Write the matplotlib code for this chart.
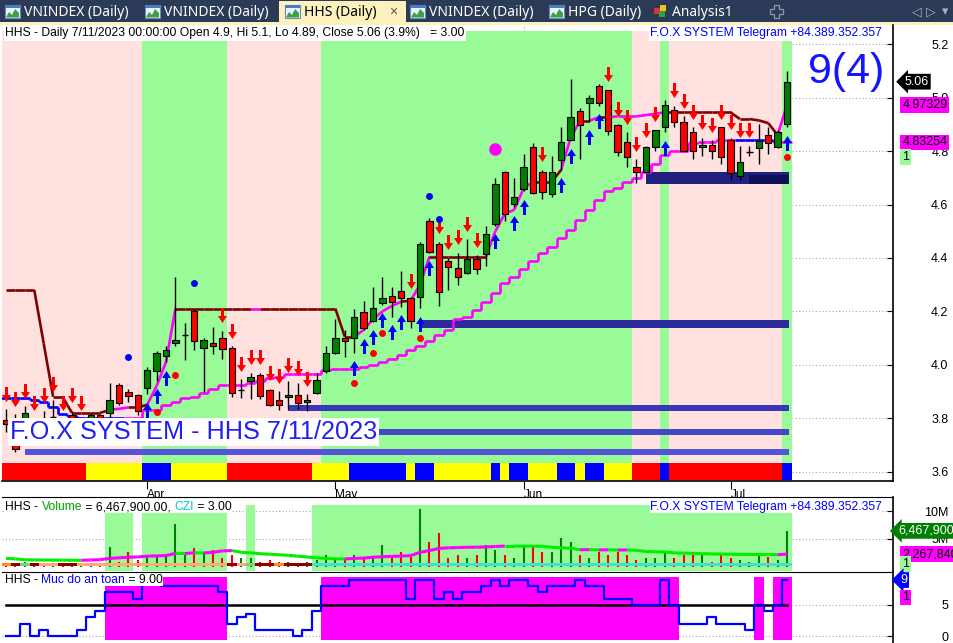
import matplotlib
matplotlib.use("Agg")
import matplotlib.pyplot as plt
import matplotlib.transforms as mtransforms
from matplotlib.collections import LineCollection
from matplotlib.patches import Rectangle, Polygon
import numpy as np

plt.rcParams["font.family"] = ["Liberation Sans", "DejaVu Sans"]

W, H = 954, 643

# HHS daily candles, 13 Mar .. 11 Jul 2023 (84 sessions)
opens = [3.793, 3.780, 3.720, 3.790, 3.790, 3.805, 3.785, 3.810, 3.780, 3.800,
         3.810, 3.820, 3.924, 3.897, 3.886, 3.914, 3.978, 4.034, 4.080, 4.111,
         4.202, 4.062, 4.080, 4.099, 4.061, 3.905, 3.940, 3.960, 3.905, 3.868,
         3.878, 3.886, 3.859, 3.895, 3.978, 4.043, 4.099, 4.099, 4.199, 4.165,
         4.230, 4.257, 4.275, 4.251, 4.255, 4.538, 4.452, 4.388, 4.361, 4.342,
         4.395, 4.414, 4.526, 4.721, 4.601, 4.657, 4.814, 4.721, 4.638, 4.766,
         4.842, 4.951, 4.979, 5.045, 5.029, 4.898, 4.833, 4.739, 4.721, 4.814,
         4.889, 4.954, 4.908, 4.870, 4.814, 4.823, 4.889, 4.842, 4.708, 4.798,
         4.811, 4.860, 4.816, 4.900]
highs = [3.834, 3.815, 3.845, 3.797, 3.827, 3.868, 3.797, 3.827, 3.797, 3.820,
         3.815, 3.930, 3.930, 3.910, 3.890, 3.990, 4.050, 4.070, 4.330, 4.156,
         4.210, 4.100, 4.140, 4.127, 4.070, 3.945, 3.970, 3.970, 3.910, 3.900,
         3.940, 3.930, 3.890, 3.970, 4.070, 4.170, 4.130, 4.210, 4.240, 4.290,
         4.330, 4.292, 4.350, 4.255, 4.460, 4.550, 4.460, 4.400, 4.420, 4.470,
         4.410, 4.520, 4.700, 4.725, 4.700, 4.790, 4.830, 4.730, 4.780, 4.890,
         5.070, 4.960, 5.010, 5.050, 5.030, 4.900, 4.870, 4.770, 4.820, 4.880,
         4.990, 4.970, 4.930, 4.890, 4.850, 4.840, 4.890, 4.850, 4.820, 4.820,
         4.900, 4.890, 4.880, 5.100]
lows = [3.749, 3.673, 3.700, 3.750, 3.740, 3.770, 3.750, 3.770, 3.750, 3.780,
        3.770, 3.800, 3.850, 3.860, 3.810, 3.890, 3.940, 4.010, 4.070, 4.018,
        4.055, 3.899, 4.040, 4.020, 3.880, 3.876, 3.870, 3.870, 3.845, 3.830,
        3.835, 3.835, 3.826, 3.890, 3.970, 4.040, 4.030, 4.045, 4.130, 4.160,
        4.225, 4.180, 4.217, 4.136, 4.211, 4.420, 4.220, 4.280, 4.300, 4.340,
        4.340, 4.370, 4.520, 4.540, 4.590, 4.650, 4.640, 4.620, 4.630, 4.730,
        4.840, 4.770, 4.910, 4.970, 4.860, 4.780, 4.740, 4.680, 4.720, 4.800,
        4.870, 4.890, 4.800, 4.770, 4.780, 4.770, 4.750, 4.690, 4.690, 4.780,
        4.750, 4.790, 4.810, 4.890]
closes = [3.778, 3.685, 3.820, 3.770, 3.770, 3.805, 3.765, 3.780, 3.785, 3.810,
          3.780, 3.868, 3.858, 3.883, 3.828, 3.980, 4.043, 4.055, 4.093, 4.111,
          4.090, 4.093, 4.071, 4.059, 3.895, 3.905, 3.953, 3.883, 3.848, 3.848,
          3.886, 3.858, 3.868, 3.943, 4.043, 4.099, 4.090, 4.180, 4.136, 4.211,
          4.249, 4.236, 4.250, 4.165, 4.451, 4.423, 4.273, 4.367, 4.330, 4.395,
          4.360, 4.490, 4.676, 4.563, 4.628, 4.739, 4.644, 4.646, 4.721, 4.833,
          4.927, 4.897, 4.998, 4.979, 4.876, 4.796, 4.777, 4.721, 4.814, 4.878,
          4.973, 4.908, 4.802, 4.802, 4.823, 4.801, 4.779, 4.717, 4.758, 4.798,
          4.839, 4.829, 4.870, 5.060]

# volume and its average, millions of shares
volume_m = [0.6, 0.4, 0.8, 0.5, 0.3, 0.6, 0.4, 0.5, 0.3, 0.7,
            0.5, 3.6, 0.9, 2.7, 1.2, 2.1, 2.1, 2.1, 7.65, 2.1,
            3.3, 2.7, 3.0, 1.5, 2.1, 1.5, 1.5, 0.9, 1.2, 0.8,
            0.9, 0.6, 0.8, 1.2, 2.1, 1.5, 1.5, 2.1, 1.8, 1.8,
            3.9, 1.8, 2.7, 1.8, 10.5, 4.5, 6.0, 1.5, 2.1, 1.5,
            2.1, 3.9, 3.0, 2.1, 1.5, 3.9, 3.9, 2.7, 2.7, 5.1,
            4.5, 2.1, 1.5, 2.7, 2.1, 2.7, 2.1, 1.2, 1.5, 1.5,
            2.7, 1.5, 2.1, 2.1, 2.1, 0.9, 2.1, 1.5, 1.2, 0.9,
            2.4, 1.8, 1.2, 6.4679]
volume_ma_m = [1.50, 1.40, 1.25, 1.22, 1.20, 1.19, 1.18, 1.16, 1.15, 1.20,
               1.26, 1.50, 1.60, 1.70, 1.76, 1.90, 1.95, 2.00, 2.40, 2.38,
               2.50, 2.48, 2.60, 2.85, 2.90, 2.60, 2.50, 2.35, 2.25, 2.15,
               2.05, 1.90, 1.75, 1.60, 1.50, 1.42, 1.40, 1.50, 1.56, 1.70,
               1.80, 1.86, 1.92, 2.00, 2.60, 2.90, 3.30, 3.40, 3.45, 3.50,
               3.52, 3.56, 3.65, 3.72, 3.72, 3.71, 3.70, 3.69, 3.50, 3.40,
               3.35, 3.05, 3.08, 3.03, 3.05, 3.00, 3.02, 2.95, 2.75, 2.70,
               2.65, 2.50, 2.45, 2.40, 2.35, 2.30, 2.28, 2.25, 2.22, 2.20,
               2.19, 2.18, 2.17, 2.268]

# trailing stops
fast_stop = [4.28, 4.28, 4.28, 4.28, 4.08, 3.88, 3.88, 3.82, 3.82, 3.82,
             3.82, 3.83, 3.835, 3.84, 3.84, 3.85, 3.92, 4.01, 4.21, 4.21,
             4.21, 4.21, 4.21, 4.21, 4.21, 4.21, 4.21, 4.21, 4.21, 4.21,
             4.21, 4.21, 4.21, 4.21, 4.21, 4.21, 4.105, 4.105, 4.13, 4.17,
             4.20, 4.22, 4.236, 4.24, 4.30, 4.405, 4.405, 4.405, 4.405, 4.405,
             4.405, 4.405, 4.50, 4.565, 4.58, 4.66, 4.685, 4.685, 4.685, 4.73,
             4.85, 4.914, 4.914, 4.927, 4.927, 4.93, 4.93, 4.93, 4.935, 4.94,
             4.945, 4.945, 4.945, 4.945, 4.945, 4.945, 4.945, 4.945, 4.92, 4.92,
             4.915, 4.905, 4.86, 4.97329]
slow_stop = [3.876, 3.876, 3.876, 3.868, 3.862, 3.840, 3.815, 3.808, 3.800, 3.800,
             3.800, 3.800, 3.800, 3.800, 3.800, 3.830, 3.830, 3.849, 3.861, 3.876,
             3.880, 3.895, 3.908, 3.924, 3.924, 3.924, 3.930, 3.940, 3.950, 3.955,
             3.966, 3.966, 3.966, 3.966, 3.980, 3.985, 3.985, 3.985, 3.992, 4.000,
             4.011, 4.020, 4.035, 4.055, 4.070, 4.090, 4.110, 4.130, 4.170, 4.180,
             4.205, 4.236, 4.267, 4.305, 4.330, 4.360, 4.390, 4.417, 4.442, 4.473,
             4.504, 4.542, 4.580, 4.617, 4.650, 4.661, 4.685, 4.700, 4.723, 4.750,
             4.785, 4.800, 4.800, 4.829, 4.833, 4.835, 4.840, 4.842, 4.842, 4.842,
             4.842, 4.842, 4.833, 4.83254]

# "Muc do an toan" (safety level 0..9)
safety = [0, 0, 2, 0, 1, 0, 0, 0, 1, 3,
          4, 7, 7, 7, 6, 9, 9, 8, 8, 8,
          8, 8, 8, 7, 2, 3, 3.5, 1, 1, 1,
          1, 0, 1, 4, 8, 8, 8, 9, 9, 9,
          9, 9, 9, 6, 9, 9, 6, 7, 6, 7,
          7, 8, 9, 8, 9, 9, 8, 7, 8, 8,
          8, 9, 8, 8, 6, 6, 6, 5, 5, 5,
          9, 5, 2, 2, 2, 3, 2, 2, 2, 1,
          5, 4, 5, 9]

month_labels = ["Apr", "May", "Jun", "Jul"]
month_bars = [15, 35, 55, 77]

sell_bars = [0, 1, 2, 3, 4, 5, 6, 7, 8, 23, 24, 25, 26, 27, 28, 29, 30, 31, 32,
             43, 46, 47, 48, 49, 50, 57, 64, 65, 66, 67, 68, 69,
             71, 72, 73, 74, 75, 76, 77, 78, 79]
buy_bars = [15, 16, 17, 37, 38, 39, 40, 41, 42, 44, 45, 52, 54, 55, 59, 60, 62, 63, 70, 83]
red_dot_bars = [16, 18, 37, 39, 40, 44, 83]
red_dot_prices = [3.824, 3.961, 3.933, 4.045, 4.120, 4.101, 4.779]
blue_dot_bars = [13, 20, 45, 46]
blue_dot_prices = [4.030, 4.307, 4.633, 4.547]
pink_dot_bar = [52]
pink_dot_price = [4.808]

# horizontal zones drawn to the last bar
zone_from = [68, 79, 44, 30, 24, 2]
zone_top = [4.723, 4.711, 4.167, 3.849, 3.758, 3.684]
zone_bottom = [4.676, 4.677, 4.136, 3.828, 3.736, 3.661]
zone_colors = ["#20207e", "#10105a", "#2b2b9c", "#3838b4", "#4646c8", "#5454d8"]


def runs(spec):
    return "".join(ch * n for ch, n in spec)


fast_trend = runs([("D", 11), ("U", 2), ("D", 2), ("U", 3), ("D", 8), ("U", 1), ("D", 10),
                   ("U", 5), ("D", 1), ("U", 2), ("D", 6), ("U", 5), ("D", 3), ("U", 2),
                   ("D", 1), ("U", 1), ("D", 1), ("U", 6), ("D", 12), ("U", 2)])
slow_trend = runs([("D", 13), ("U", 65), ("D", 4), ("U", 2)])
price_bg = runs([("P", 15), ("G", 9), ("P", 10), ("G", 33), ("P", 3), ("G", 1), ("P", 12), ("G", 1)])
price_strip = runs([("R", 9), ("Y", 6), ("B", 3), ("Y", 6), ("R", 9), ("Y", 4), ("B", 6), ("Y", 1),
                    ("B", 2), ("Y", 6), ("B", 1), ("Y", 1), ("B", 2), ("Y", 3), ("B", 2), ("Y", 1),
                    ("B", 2), ("Y", 3), ("R", 3), ("B", 1), ("R", 12), ("B", 1)])
volume_bg = runs([(".", 11), ("G", 3), (".", 1), ("G", 9), (".", 2), ("G", 1), (".", 6), ("G", 51)])
volume_strip = runs([("o", 1), ("r", 1), ("g", 1), ("r", 1), ("s", 2), ("r", 2), ("s", 16), ("r", 1),
                     ("s", 1), ("g", 1), ("r", 2), ("o", 1), ("r", 3), ("c", 51)])

n = len(closes)
idx = np.arange(n)
o, h, l, c = map(np.array, (opens, highs, lows, closes))

PALE_GREEN = "#98fb98"
MISTY = "#ffe2e0"
MAGENTA = "#ff00ff"
MAROON = "#800000"
HEAD_SIZE = 8.7


def spans(states):
    start = 0
    for i in range(1, len(states) + 1):
        if i == len(states) or states[i] != states[start]:
            yield states[start], start, i - 1
            start = i


def px_axes(x0, y0, x1, y1):
    return fig.add_axes([x0 / W, 1 - y1 / H, (x1 - x0) / W, (y1 - y0) / H])


def right_axis(ax):
    for side in ("left", "top"):
        ax.spines[side].set_visible(False)
    ax.spines["right"].set_linewidth(1.2)
    ax.yaxis.tick_right()
    ax.tick_params(axis="y", direction="in", length=4, pad=40, labelsize=9)
    for t in ax.get_yticklabels():
        t.set_horizontalalignment("right")
    ax.set_facecolor("white")
    ax.set_axisbelow(True)
    ax.grid(axis="y", linestyle=(0, (1, 2)), color="#a8a8a8", linewidth=0.8)


def tag(ax, y, text, fc, tc, arrow=False, x=1.0105):
    style = "larrow,pad=0.15" if arrow else "square,pad=0.15"
    tr = mtransforms.blended_transform_factory(ax.transAxes, ax.transData)
    ax.text(x, y, text, transform=tr, fontsize=9, color=tc, ha="left", va="center",
            bbox=dict(boxstyle=style, fc=fc, ec="none"), clip_on=False, zorder=20)


def colored_header(ax, x, y, pieces):
    # each coloured piece starts where the previous one ends
    prev = None
    for text, col in pieces:
        kw = dict(fontsize=HEAD_SIZE, color=col, va="bottom", ha="left", zorder=20,
                  bbox=dict(boxstyle="square,pad=0", fc="white", ec="none"))
        if prev is None:
            prev = ax.annotate(text, xy=(x, y), xycoords="axes fraction", **kw)
        else:
            prev = ax.annotate(text, xy=(1, 0), xycoords=prev, **kw)


fig = plt.figure(figsize=(W / 100, H / 100), dpi=100)
fig.patch.set_facecolor("white")

# ---------------- tab strip ----------------
tab_ax = px_axes(0, 0, W, 25)
tab_ax.set_xlim(0, W)
tab_ax.set_ylim(25, 0)
tab_ax.axis("off")
tab_ax.add_patch(Rectangle((0, 0), W, 22, fc="#2b3a57", ec="none"))
tab_ax.add_patch(Rectangle((0, 22), W, 3, fc="#fdf2bd", ec="none"))
tab_ax.add_patch(Rectangle((279, 1), 127, 22, fc="#fdf2bd", ec="none"))
tabs = [("VNINDEX (Daily)", 5), ("VNINDEX (Daily)", 145), ("HHS (Daily)", 285),
        ("VNINDEX (Daily)", 410), ("HPG (Daily)", 549)]
for label, x in tabs:
    tab_ax.add_patch(Rectangle((x, 5), 15, 13, fc="#eaf2fb", ec="#6a8cbc", lw=0.8))
    tab_ax.add_patch(Rectangle((x, 5), 15, 3, fc="#4a7cc0", ec="none"))
    tab_ax.add_patch(Polygon([(x + 1, 17.5), (x + 4, 12), (x + 7, 15), (x + 10, 9), (x + 14, 13),
                              (x + 14, 17.5)], fc="#3aa04a", ec="none"))
    active = label.startswith("HHS")
    tab_ax.text(x + 19, 12, label, fontsize=10, family=["Noto Sans", "DejaVu Sans"],
                color="black" if active else "white", weight="bold" if active else "normal",
                va="center", ha="left")
tab_ax.text(393, 12, "×", fontsize=10, color="#555555", va="center", ha="center")
tab_ax.add_patch(Rectangle((654, 8), 6, 6, fc="#e03030", ec="none"))
tab_ax.add_patch(Rectangle((660, 5), 6, 6, fc="#f0c020", ec="none"))
tab_ax.add_patch(Rectangle((659, 11), 6, 6, fc="#30a040", ec="none"))
tab_ax.text(672, 12, "Analysis1", fontsize=10, family=["Noto Sans", "DejaVu Sans"],
            color="white", va="center", ha="left")
tab_ax.add_patch(Polygon([(774, 5), (779, 5), (779, 9), (783, 9), (783, 14), (779, 14), (779, 18),
                          (774, 18), (774, 14), (770, 14), (770, 9), (774, 9)],
                         fc="none", ec="#8a93a6", lw=1))
for x, s in ((917, "◁"), (931, "▷"), (945, "▾")):
    tab_ax.text(x, 12, s, fontsize=9, color="#a9b1c2", va="center", ha="center",
                family=["DejaVu Sans"])

# ---------------- price pane ----------------
ax = px_axes(2, 25, 893, 481)
ax.set_xlim(-0.43, 94.26)
ax.set_ylim(3.5645, 5.2723)
price_ticks = np.round(np.arange(3.6, 5.21, 0.2), 1)
ax.set_yticks(price_ticks)
ax.set_yticklabels([f"{v:.1f}" for v in price_ticks])
right_axis(ax)
ax.spines["bottom"].set_linewidth(1.2)
ax.set_xticks(month_bars)
ax.set_xticklabels(month_labels, ha="left", fontsize=8.5)
ax.tick_params(axis="x", direction="out", length=6, pad=0)
ax.grid(axis="x", linestyle=(0, (1, 2)), color="#a8a8a8", linewidth=0.8)

band_top, band_bot = 5.248, 3.5645
for state, a, b in spans(price_bg):
    ax.fill_between([a - 0.5, b + 0.5], band_bot, band_top,
                    color=PALE_GREEN if state == "G" else MISTY, lw=0, zorder=1)
strip_cols = {"R": "#ff0000", "Y": "#ffff00", "B": "#0000ff"}
for state, a, b in spans(price_strip):
    ax.fill_between([a - 0.5, b + 0.5], 3.5685, 3.632, color=strip_cols[state], lw=0, zorder=1.5)

for z0, zt, zb, zc in zip(zone_from, zone_top, zone_bottom, zone_colors):
    ax.fill_between([z0, n - 0.8], zb, zt, color=zc, lw=0, zorder=2)

# trailing stops
segs = [[(i, fast_stop[i]), (i + 1, fast_stop[i + 1])] for i in range(n - 1)]
cols = [MAGENTA if fast_trend[i] == "U" else MAROON for i in range(n - 1)]
ax.add_collection(LineCollection(segs, colors=cols, linewidths=1.9, zorder=3, capstyle="butt"))
segs, cols = [], []
for i in range(n):
    col = MAGENTA if slow_trend[i] == "U" else "#0000ff"
    segs.append([(i - 0.5, slow_stop[i]), (i + 0.5, slow_stop[i])])
    cols.append(col)
    if i < n - 1:
        segs.append([(i + 0.5, slow_stop[i]), (i + 0.5, slow_stop[i + 1])])
        cols.append(col)
ax.add_collection(LineCollection(segs, colors=cols, linewidths=1.9, zorder=3))

# candles
up = c >= o
ax.vlines(idx, l, h, color="black", lw=1, zorder=4)
body = np.abs(c - o) > 1e-6
ax.bar(idx[body], np.abs(c - o)[body], bottom=np.minimum(o, c)[body], width=0.68,
       color=np.where(up, "#008000", "#ff0000")[body], edgecolor="black", linewidth=0.8, zorder=5)
ax.hlines(c[~body], idx[~body] - 0.34, idx[~body] + 0.34, color="black", lw=1, zorder=5)

# signal arrows and dots
down_arrow = [(-0.2, 1), (0.2, 1), (0.2, -0.07), (0.6, -0.07), (0, -1), (-0.6, -0.07), (-0.2, -0.07)]
up_arrow = [(x, -y) for x, y in down_arrow]
ppx = 1 / 267.0
sb = np.array(sell_bars)
bb = np.array(buy_bars)
ax.plot(sb, h[sb] + 15.5 * ppx, ls="none", marker=down_arrow, ms=10.8, color="#ff0000",
        mew=0, zorder=6)
ax.plot(bb, l[bb] - 15.5 * ppx, ls="none", marker=up_arrow, ms=10.8, color="#0000ff",
        mew=0, zorder=6)
ax.plot(red_dot_bars, red_dot_prices, ls="none", marker="o", ms=5, color="#ff0000", mew=0, zorder=6)
ax.plot(blue_dot_bars, blue_dot_prices, ls="none", marker="o", ms=5, color="#0000ff", mew=0, zorder=6)
ax.plot(pink_dot_bar, pink_dot_price, ls="none", marker="o", ms=9, color=MAGENTA, mew=0, zorder=6)

ax.text(0.44, 3.748, "F.O.X SYSTEM - HHS 7/11/2023", fontsize=18.2, color="#2020f0",
        va="center", ha="left", zorder=9,
        bbox=dict(boxstyle="square,pad=0.08", fc="white", ec="none"))
ax.text(85.2, 5.095, "9(4)", fontsize=31, color="#1414ff", va="center", ha="left", zorder=9)
ax.text(0.0035, 0.982, "HHS - Daily 7/11/2023 00:00:00 Open 4.9, Hi 5.1, Lo 4.89, Close 5.06 (3.9%)   = 3.00",
        transform=ax.transAxes, fontsize=HEAD_SIZE, va="center", ha="left", zorder=9,
        bbox=dict(boxstyle="square,pad=0.12", fc="white", ec="none"))
ax.text(0.9877, 0.982, "F.O.X SYSTEM Telegram +84.389.352.357", transform=ax.transAxes,
        fontsize=HEAD_SIZE, color="#0000ff", va="center", ha="right", zorder=9,
        bbox=dict(boxstyle="square,pad=0.12", fc="white", ec="none"))

tag(ax, closes[-1], "5.06", "black", "white", arrow=True, x=1.013)
tag(ax, fast_stop[-1], "4.97329", MAGENTA, "black")
tag(ax, slow_stop[-1], "4.83254", MAGENTA, "black")
tag(ax, red_dot_prices[-1], "1", PALE_GREEN, "black")

# ---------------- volume pane ----------------
vax = px_axes(2, 497, 893, 571)
vax.set_xlim(-0.43, 94.26)
vax.set_ylim(-0.78, 12.58)
vax.set_yticks([5, 10])
vax.set_yticklabels(["5M", "10M"])
vax.set_xticks([])
right_axis(vax)
vax.spines["top"].set_visible(True)
vax.spines["bottom"].set_visible(False)
for state, a, b in spans(volume_bg):
    if state == "G":
        vax.fill_between([a - 0.5, b + 0.5], -0.78, 11.1, color=PALE_GREEN, lw=0, zorder=1)
vax.vlines(idx, 0, volume_m, colors=np.where(up, "#008000", "#ff0000"), lw=1.5, zorder=3)
segs = [[(i, volume_ma_m[i]), (i + 1, volume_ma_m[i + 1])] for i in range(n - 1)]
cols = [MAGENTA if volume_ma_m[i + 1] > volume_ma_m[i] else "#00ee00" for i in range(n - 1)]
vax.add_collection(LineCollection(segs, colors=cols, linewidths=2.2, zorder=4))
vstrip_cols = {"o": "#ff8c1a", "r": "#8b0000", "s": "#ffa878", "g": "#7ccf7c", "c": "#40e0d0"}
for state, a, b in spans(volume_strip):
    vax.fill_between([a - 0.5, b + 0.5], 0.05, 0.75, color=vstrip_cols[state], lw=0, zorder=5)
colored_header(vax, 0.0035, 0.78, [("HHS - ", "black"), ("Volume", "#00a000"),
                                     (" = 6,467,900.00, ", "black"), ("CZI", "#00c8c8"),
                                     (" = 3.00", "black")])
vax.text(0.9877, 0.78, "F.O.X SYSTEM Telegram +84.389.352.357", transform=vax.transAxes,
         fontsize=HEAD_SIZE, color="#0000ff", va="bottom", ha="right", zorder=9,
         bbox=dict(boxstyle="square,pad=0", fc="white", ec="none"))
tag(vax, volume_m[-1], "6,467,900", "#008000", "white", arrow=True, x=1.006)
tag(vax, volume_ma_m[-1], "2,267,840", MAGENTA, "black")
tag(vax, 0.45, "1", PALE_GREEN, "black")

# ---------------- safety pane ----------------
sax = px_axes(2, 572, 893, 643)
sax.set_xlim(-0.43, 94.26)
sax.set_ylim(-1.125, 10.29)
sax.set_yticks([0, 5])
sax.set_yticklabels(["0", "5"])
sax.set_xticks([])
right_axis(sax)
sax.spines["top"].set_visible(True)
sax.spines["bottom"].set_visible(False)
safe_state = "".join("S" if v >= 5 else "." for v in safety)
for state, a, b in spans(safe_state):
    if state == "S":
        sax.fill_between([a - 0.5, b + 0.5], -0.6, 9.5, color=MAGENTA, lw=0, zorder=1)
sax.plot([0, n - 1], [5, 5], color="black", lw=1.8, zorder=2)
sax.plot(idx, safety, drawstyle="steps-mid", color="#0000ff", lw=1.6, zorder=3)
colored_header(sax, 0.0035, 0.80, [("HHS - ", "black"), ("Muc do an toan", "#0000ff"),
                                     (" = 9.00", "black")])
tag(sax, safety[-1], "9", "#0000ff", "white", arrow=True, x=1.008)
tag(sax, 6.2, "1", MAGENTA, "black")

fig.savefig("out.png", dpi=100, facecolor="white")
